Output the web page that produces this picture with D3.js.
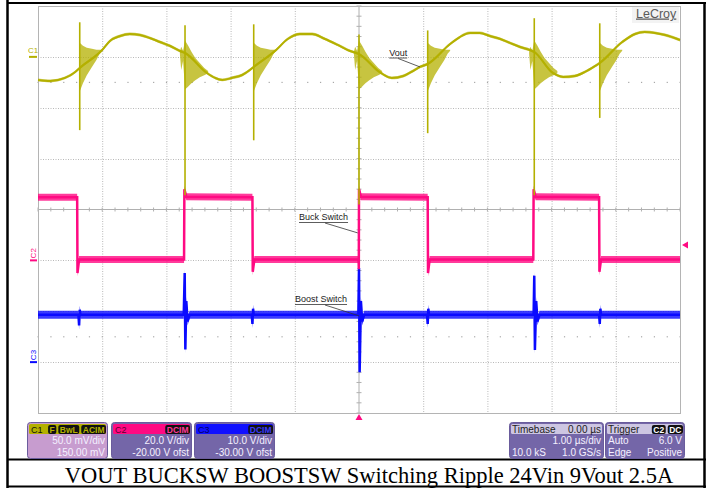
<!DOCTYPE html>
<html><head><meta charset="utf-8">
<script src="https://cdn.jsdelivr.net/npm/d3@7"></script>
<style>
html,body{margin:0;padding:0;background:#fff;}
svg{display:block;}
text{font-family:"Liberation Sans",Arial,sans-serif;}
</style></head><body>
<svg id="chart" width="710" height="488"></svg>
<script>
// ---------------- DATA ----------------
// time axis: 1.00 us/div, 10 divisions, trigger at 0
const timeDomain = [-5, 5];
// C1 Vout ripple (t in us, mV relative to C1 marker)
const voutTrace = [
 [-5.00,-22.7],[-4.81,-23.7],[-4.58,-20.7],[-4.42,-14.8],[-4.35,-10.9],
 [-4.00,6.8],[-3.88,15.6],[-3.72,20.5],[-3.57,22.5],[-3.41,21.5],[-3.26,18.6],[-3.10,14.6],[-2.94,10.7],[-2.79,5.8],[-2.71,3.8],
 [-2.37,-15.8],[-2.24,-20.7],[-2.13,-22.7],[-1.98,-20.7],[-1.82,-17.8],[-1.70,-12.9],[-1.64,-9.9],
 [-1.29,6.8],[-1.11,17.6],[-0.92,22.5],[-0.73,22.5],[-0.53,17.6],[-0.33,11.7],[-0.14,5.8],[0.00,2.8],
 [0.34,-15.8],[0.51,-20.7],[0.69,-18.8],[0.84,-13.9],[0.95,-9.9],[1.07,-7.0],
 [1.42,12.7],[1.57,19.5],[1.73,23.5],[1.88,23.5],[2.04,20.5],[2.20,17.6],[2.35,13.7],[2.51,9.7],[2.66,6.8],[2.73,4.8],
 [3.02,-15.8],[3.18,-19.7],[3.36,-18.8],[3.52,-14.8],[3.68,-8.9],[3.75,-6.0],
 [4.10,14.6],[4.30,22.5],[4.45,24.5],[4.61,23.5],[4.77,21.5],[5.00,16.6]
];
const fallEdges = [-4.35, -1.64, 1.07, 3.75];
const riseEdges = [-2.71, 0.00, 2.73];
// ringing envelope after each edge: [dt us, upper mV, lower mV]
const fallBurst = [[0.00,14,-34],[0.05,11,-26],[0.11,9,-18],[0.19,8,-10],[0.26,7,-3],[0.31,7,3],[0.35,7,6]];
const riseBurst = [[-0.08,5,3],[-0.06,10,-13],[-0.03,6,-4],[0.00,16,-32],[0.05,11,-29],[0.10,5,-26],[0.16,-1,-23],[0.23,-6,-20],[0.30,-11,-18],[0.36,-14,-16]];
// spikes: [t, top mV, bottom mV]
const voutSpikes = [[-4.35,34,-72],[-2.71,31,-136],[-1.64,32,-82],[0.00,22,-145],[1.07,26,-75],[2.73,38,-136],[3.75,33,-60]];
// C2 Buck switch (V)
const buckTrace = [
 [-5.00,24.8],
 [-4.390,24.8],[-4.385,-5.0],[-4.36,0.3],
 [-2.725,0.3],[-2.72,28.0],[-2.69,25.0],
 [-1.660,24.8],[-1.655,-4.5],[-1.63,0.3],
 [-0.006,0.3],[-0.003,-3.5],[0.000,28.0],[0.03,25.0],
 [1.070,24.8],[1.075,-5.0],[1.10,0.3],
 [2.715,0.3],[2.720,28.0],[2.75,25.0],
 [3.740,24.8],[3.745,-4.5],[3.77,0.3],
 [5.00,0.3]
];
// C3 Boost switch (V)
const boostTrace = [
 [-5.00,9.3],
 [-4.37,9.3],[-4.36,7.2],[-4.35,10.3],[-4.34,9.3],
 [-2.73,9.3],[-2.715,17.5],[-2.705,2.5],[-2.69,12.0],[-2.67,8.0],[-2.64,9.3],
 [-1.67,9.3],[-1.66,7.5],[-1.65,10.5],[-1.64,9.3],
 [-0.010,9.3],[0.000,18.5],[0.010,-2.0],[0.03,12.0],[0.05,8.0],[0.08,9.3],
 [1.06,9.3],[1.07,7.5],[1.08,10.5],[1.09,9.3],
 [2.72,9.3],[2.73,17.0],[2.74,2.4],[2.76,12.0],[2.78,8.0],[2.81,9.3],
 [3.74,9.3],[3.75,7.5],[3.76,10.5],[3.77,9.3],
 [5.00,9.3]
];
const triggerLevel = 6.0; // V on C2
const channelNames = ["C1","C2","C3"];
const channelBadges = [["F","BwL","ACIM"],["DCIM"],["DCIM"]];
const channelScaleLabels = ["50.0 mV/div","20.0 V/div","10.0 V/div"];
const channelOffsetLabels = ["150.00 mV","-20.00 V ofst","-30.00 V ofst"];
const timebaseLabels = {title:"Timebase", delay:"0.00 µs", perDiv:"1.00 µs/div", samples:"10.0 kS", rate:"1.0 GS/s"};
const triggerLabels = {title:"Trigger", badges:["C2","DC"], mode:"Auto", level:"6.0 V", type:"Edge", slope:"Positive"};
const annotationLabels = ["Vout","Buck Switch","Boost Switch"];
const caption = "VOUT BUCKSW BOOSTSW Switching Ripple 24Vin 9Vout 2.5A";

// ---------------- DRAW ----------------
const svg = d3.select("#chart");
const L = 38, R = 680, T = 6, B = 413;
const COL = {c1:"#b4b000", c2:"#ff0a82", c3:"#0a0aff"};

const x = d3.scaleLinear().domain(timeDomain).range([L, R]);
const yDiv = d3.scaleLinear().domain([-4, 4]).range([B, T]);
const yC1 = d3.scaleLinear().domain([-350, 50]).range([B, T]);
const yC2 = d3.scaleLinear().domain([-60, 100]).range([B, T]);
const yC3 = d3.scaleLinear().domain([-10, 70]).range([B, T]);

// table borders
const border = svg.append("g").attr("stroke", "#000");
border.append("line").attr("x1", 7.5).attr("x2", 7.5).attr("y1", 0).attr("y2", 488).attr("stroke-width", 2.5);
border.append("line").attr("x1", 7).attr("x2", 706).attr("y1", 3).attr("y2", 3).attr("stroke-width", 2);
border.append("line").attr("x1", 704.5).attr("x2", 704.5).attr("y1", 2).attr("y2", 488).attr("stroke-width", 2.5);
border.append("line").attr("x1", 7).attr("x2", 706).attr("y1", 459.5).attr("y2", 459.5).attr("stroke-width", 2);
border.append("line").attr("x1", 7).attr("x2", 706).attr("y1", 486.5).attr("y2", 486.5).attr("stroke-width", 2);

// graticule
const grid = svg.append("g");
const xDivs = d3.range(-4, 5, 1).filter(d => d !== 0);
const yDivs = d3.range(-3, 4, 1).filter(d => d !== 0);
grid.selectAll(".vg").data(xDivs).join("line")
  .attr("x1", d => x(d) + 0.5).attr("x2", d => x(d) + 0.5).attr("y1", T).attr("y2", B)
  .attr("stroke", "#b8b8b8").attr("stroke-dasharray", "1,1.5");
grid.selectAll(".hg").data(yDivs).join("line")
  .attr("x1", L).attr("x2", R).attr("y1", d => Math.round(yDiv(d)) + 0.5).attr("y2", d => Math.round(yDiv(d)) + 0.5)
  .attr("stroke", "#b8b8b8").attr("stroke-dasharray", "1,1.5");
// minor dot rows
const dotT = d3.range(-5, 5.001, 0.2);
[2.5, -2.5].forEach(r => {
  grid.selectAll(null).data(dotT).join("rect")
    .attr("x", d => x(d) - 0.5).attr("y", yDiv(r) - 0.5).attr("width", 1.2).attr("height", 1.2).attr("fill", "#a8a8a8");
});
// center axes with ticks
grid.append("line").attr("x1", L).attr("x2", R).attr("y1", yDiv(0)).attr("y2", yDiv(0)).attr("stroke", "#b0b0b0");
grid.append("line").attr("x1", x(0)).attr("x2", x(0)).attr("y1", T).attr("y2", B).attr("stroke", "#b0b0b0");
grid.selectAll(".ht").data(d3.range(-5, 5.001, 0.2)).join("line")
  .attr("x1", d => x(d)).attr("x2", d => x(d)).attr("y1", yDiv(0) - 2).attr("y2", yDiv(0) + 2).attr("stroke", "#b0b0b0");
grid.selectAll(".vt").data(d3.range(-4, 4.001, 0.2)).join("line")
  .attr("x1", x(0) - 2.5).attr("x2", x(0) + 2.5).attr("y1", d => yDiv(d)).attr("y2", d => yDiv(d)).attr("stroke", "#b0b0b0");
grid.append("rect").attr("x", L + 0.5).attr("y", T + 0.5).attr("width", R - L).attr("height", B - T)
  .attr("fill", "none").attr("stroke", "#b4b4b4");

// LeCroy logo
svg.append("rect").attr("x", 632).attr("y", 7).attr("width", 47).attr("height", 16).attr("fill", "#f3f3f3");
svg.append("text").attr("x", 636).attr("y", 17.5).attr("font-size", 12.5).attr("fill", "#5a5a5a")
  .attr("text-decoration", "underline").text("LeCroy");

// helper for traces with noise band
function trace(data, ys, color, band, bandOp, lw, curve) {
  const g = svg.append("g");
  g.append("path").datum(data)
    .attr("d", d3.area().x(d => x(d[0])).y0(d => ys(d[1]) + band).y1(d => ys(d[1]) - band).curve(curve))
    .attr("fill", color).attr("fill-opacity", bandOp);
  g.append("path").datum(data)
    .attr("d", d3.line().x(d => x(d[0])).y(d => ys(d[1])).curve(curve))
    .attr("fill", "none").attr("stroke", color).attr("stroke-width", lw);
  return g;
}

// C3 Boost switch
trace(boostTrace, yC3, COL.c3, 4, 0.8, 2.5, d3.curveLinear);
// C2 Buck switch
trace(buckTrace, yC2, COL.c2, 3.5, 0.8, 2.5, d3.curveLinear);

// C1 Vout
trace(voutTrace, yC1, COL.c1, 1.4, 0.6, 2, d3.curveMonotoneX);
const burstArea = d3.area().x(d => x(d[0])).y0(d => yC1(d[2])).y1(d => yC1(d[1]));
fallEdges.forEach(e => {
  svg.append("path").datum(fallBurst.map(b => [e + b[0], b[1], b[2]]))
    .attr("d", burstArea).attr("fill", COL.c1).attr("fill-opacity", 0.75);
});
riseEdges.forEach(e => {
  svg.append("path").datum(riseBurst.map(b => [e + b[0], b[1], b[2]]))
    .attr("d", burstArea).attr("fill", COL.c1).attr("fill-opacity", 0.75);
});
svg.selectAll(".spk").data(voutSpikes).join("line")
  .attr("x1", d => x(d[0])).attr("x2", d => x(d[0]))
  .attr("y1", d => yC1(d[1])).attr("y2", d => yC1(d[2]))
  .attr("stroke", COL.c1).attr("stroke-width", 1.6);

// channel markers
const mk = svg.append("g").attr("font-size", 8);
mk.append("line").attr("x1", 29).attr("x2", 37).attr("y1", yC1(0)).attr("y2", yC1(0)).attr("stroke", COL.c1).attr("stroke-width", 2);
mk.append("text").attr("x", 28).attr("y", yC1(0) - 4).attr("fill", COL.c1).text("C1");
mk.append("line").attr("x1", 30).attr("x2", 37).attr("y1", yC2(0)).attr("y2", yC2(0)).attr("stroke", COL.c2).attr("stroke-width", 2);
mk.append("text").attr("transform", `translate(36,${yC2(0) - 2}) rotate(-90)`).attr("fill", COL.c2).text("C2");
mk.append("line").attr("x1", 30).attr("x2", 37).attr("y1", yC3(0)).attr("y2", yC3(0)).attr("stroke", COL.c3).attr("stroke-width", 2);
mk.append("text").attr("transform", `translate(36,${yC3(0) - 2}) rotate(-90)`).attr("fill", COL.c3).text("C3");

// trigger markers
const tl = yC2(triggerLevel);
svg.append("path").attr("d", `M${R + 2},${tl} L${R + 8},${tl - 3.5} L${R + 8},${tl + 3.5}Z`).attr("fill", COL.c2);
svg.append("path").attr("d", `M${x(0)},${B + 1} L${x(0) - 3.5},${B + 7} L${x(0) + 3.5},${B + 7}Z`).attr("fill", COL.c2);

// annotations
const ann = svg.append("g").attr("font-size", 9).attr("fill", "#222");
function annotate(label, tx, ty, lx1, px, py) {
  const t = ann.append("text").attr("x", tx).attr("y", ty).text(label);
  const w = t.node().getComputedTextLength();
  ann.append("line").attr("x1", tx).attr("x2", tx + w).attr("y1", ty + 2.5).attr("y2", ty + 2.5).attr("stroke", "#333").attr("stroke-width", 0.8);
  ann.append("line").attr("x1", tx + lx1).attr("x2", px).attr("y1", ty + 3).attr("y2", py).attr("stroke", "#333").attr("stroke-width", 0.8);
}
annotate(annotationLabels[0], x(0.47), 55.5, 9, x(0.95), yC1(-9.9));
annotate(annotationLabels[1], 299, 220, 26, x(-0.02), yC2(10.8));
annotate(annotationLabels[2], 295, 302, 30, x(0), yC3(9.1));

// info bar
const info = svg.append("g").attr("font-size", 10);
const boxY = 422, boxH = 36;
const chanBoxX = [27, 111, 194], chanBoxW = 80;
const headCol = [COL.c1, "#ff0a82", "#1010ff"];
const bodyCol = ["#c79ccf", "#7466a8", "#7466a8"];
const badgeTextCol = [COL.c1, "#ff3a9a", "#3a3aff"];
function badges(list, xr, y, txtCol) {
  let cur = xr;
  for (let i = list.length - 1; i >= 0; i--) {
    const r = info.append("rect").attr("y", y - 8).attr("height", 9).attr("rx", 2).attr("fill", "#111");
    const t = info.append("text").attr("font-size", 8.5).attr("font-weight", "bold").attr("fill", txtCol).attr("text-anchor", "end").text(list[i]);
    const w = t.node().getComputedTextLength();
    r.attr("x", cur - w - 3).attr("width", w + 3);
    t.attr("x", cur - 1.5).attr("y", y - 0.5);
    cur -= w + 5;
  }
}
channelNames.forEach((n, i) => {
  const bx = chanBoxX[i];
  info.append("rect").attr("x", bx + 0.5).attr("y", boxY + 0.5).attr("width", chanBoxW).attr("height", boxH).attr("rx", 3)
    .attr("fill", bodyCol[i]).attr("stroke", "#6a5c9c");
  info.append("rect").attr("x", bx + 2).attr("y", boxY + 2).attr("width", chanBoxW - 3).attr("height", 10).attr("rx", 1.5).attr("fill", headCol[i]);
  info.append("text").attr("x", bx + 4).attr("y", boxY + 10.5).attr("font-size", 9).attr("fill", i === 0 ? "#111" : (i === 1 ? "#5a0030" : "#000060")).text(n);
  badges(channelBadges[i], bx + chanBoxW - 1, boxY + 11, badgeTextCol[i]);
  info.append("text").attr("x", bx + chanBoxW - 2).attr("y", boxY + 22).attr("text-anchor", "end").attr("fill", "#f4f0ff").text(channelScaleLabels[i]);
  info.append("text").attr("x", bx + chanBoxW - 2).attr("y", boxY + 34).attr("text-anchor", "end").attr("fill", "#f4f0ff").text(channelOffsetLabels[i]);
});
// timebase
const tbx = 509, tbw = 94;
info.append("rect").attr("x", tbx + 0.5).attr("y", boxY + 0.5).attr("width", tbw).attr("height", boxH).attr("rx", 3).attr("fill", "#7466a8").attr("stroke", "#6a5c9c");
info.append("rect").attr("x", tbx + 2).attr("y", boxY + 2).attr("width", tbw - 3).attr("height", 10).attr("rx", 1.5).attr("fill", "#cdc6e2");
info.append("text").attr("x", tbx + 3).attr("y", boxY + 10.5).attr("fill", "#222").text(timebaseLabels.title);
info.append("text").attr("x", tbx + tbw - 2).attr("y", boxY + 10.5).attr("text-anchor", "end").attr("fill", "#222").text(timebaseLabels.delay);
info.append("text").attr("x", tbx + tbw - 2).attr("y", boxY + 22).attr("text-anchor", "end").attr("fill", "#f4f0ff").text(timebaseLabels.perDiv);
info.append("text").attr("x", tbx + 3).attr("y", boxY + 34).attr("fill", "#f4f0ff").text(timebaseLabels.samples);
info.append("text").attr("x", tbx + tbw - 2).attr("y", boxY + 34).attr("text-anchor", "end").attr("fill", "#f4f0ff").text(timebaseLabels.rate);
// trigger
const trx = 605, trw = 79;
info.append("rect").attr("x", trx + 0.5).attr("y", boxY + 0.5).attr("width", trw).attr("height", boxH).attr("rx", 3).attr("fill", "#7466a8").attr("stroke", "#6a5c9c");
info.append("rect").attr("x", trx + 2).attr("y", boxY + 2).attr("width", trw - 3).attr("height", 10).attr("rx", 1.5).attr("fill", "#cdc6e2");
info.append("text").attr("x", trx + 3).attr("y", boxY + 10.5).attr("fill", "#222").text(triggerLabels.title);
badges(triggerLabels.badges, trx + trw - 1, boxY + 11, "#fff");
info.append("text").attr("x", trx + 3).attr("y", boxY + 22).attr("fill", "#f4f0ff").text(triggerLabels.mode);
info.append("text").attr("x", trx + trw - 2).attr("y", boxY + 22).attr("text-anchor", "end").attr("fill", "#f4f0ff").text(triggerLabels.level);
info.append("text").attr("x", trx + 3).attr("y", boxY + 34).attr("fill", "#f4f0ff").text(triggerLabels.type);
info.append("text").attr("x", trx + trw - 2).attr("y", boxY + 34).attr("text-anchor", "end").attr("fill", "#f4f0ff").text(triggerLabels.slope);

// caption
svg.append("text").attr("x", 369).attr("y", 482.5).attr("text-anchor", "middle")
  .style("font-family", "'Liberation Serif','Times New Roman',serif").attr("font-size", 22.5).attr("fill", "#000").text(caption);
</script>
</body></html>
